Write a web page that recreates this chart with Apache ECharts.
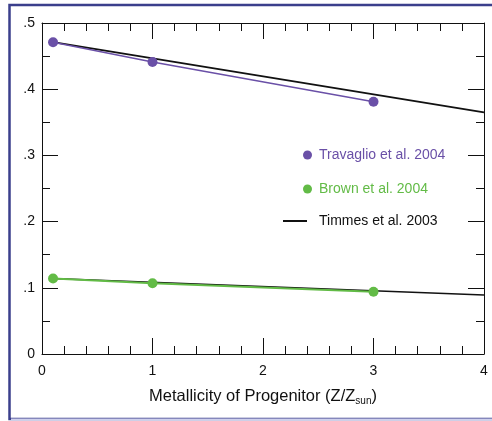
<!DOCTYPE html>
<html>
<head>
<meta charset="utf-8">
<script src="https://cdn.jsdelivr.net/npm/echarts@6/dist/echarts.min.js"></script>
<style>html,body{margin:0;padding:0;background:#fff}#c{width:492px;height:421px}</style>
</head>
<body>
<div id="c"></div>
<script>
var xTicks = [0, 1, 2, 3, 4];
var yTickLabels = ['0', '.1', '.2', '.3', '.4', '.5'];
var travaglioX = [0.1, 1, 3];
var travaglioY = [0.471, 0.441, 0.381];
var brownX = [0.1, 1, 3];
var brownY = [0.114, 0.107, 0.094];
var timmesUpperX = [0.1, 4];
var timmesUpperY = [0.471, 0.365];
var timmesLowerX = [0.1, 4];
var timmesLowerY = [0.114, 0.089];

function zip(a, b) { return a.map(function (v, i) { return [v, b[i]]; }); }

var PURPLE = '#6a50a7';
var GREEN = '#62bb46';
var FONT = 'Liberation Sans';

var chart = echarts.init(document.getElementById('c'), null, {renderer: 'canvas'});

function axLine() { return {show: true, onZero: false, lineStyle: {color: '#111', width: 1}}; }
function axTick() { return {show: true, inside: true, length: 16, lineStyle: {color: '#111', width: 1}}; }
function minor(n) { return {show: true, splitNumber: n, length: 8, lineStyle: {color: '#111', width: 1}}; }

chart.setOption({
  animation: false,
  backgroundColor: '#fff',
  grid: {left: 42, right: 8, top: 23, bottom: 67, containLabel: false},
  xAxis: [
    {
      type: 'value', min: 0, max: 4, interval: 1, position: 'bottom',
      axisLine: axLine(), axisTick: axTick(), minorTick: minor(5), splitLine: {show: false},
      axisLabel: {show: true, color: '#111', fontFamily: FONT, fontSize: 14, margin: 10,
        formatter: function (v) { return xTicks.indexOf(v) >= 0 ? String(v) : ''; }},
      name: 'Metallicity of Progenitor (Z/Z{sub|sun})',
      nameLocation: 'middle', nameGap: 32,
      nameTextStyle: {color: '#111', fontFamily: FONT, fontSize: 16.5, lineHeight: 20,
        rich: {sub: {fontSize: 10, fontFamily: FONT, color: '#111', verticalAlign: 'bottom', lineHeight: 10}}}
    },
    {
      type: 'value', min: 0, max: 4, interval: 1, position: 'top',
      axisLine: axLine(), axisTick: axTick(), minorTick: minor(5), splitLine: {show: false},
      axisLabel: {show: false}
    }
  ],
  yAxis: [
    {
      type: 'value', min: 0, max: 0.5, interval: 0.1, position: 'left',
      axisLine: axLine(), axisTick: axTick(), minorTick: minor(2), splitLine: {show: false},
      axisLabel: {show: true, color: '#111', fontFamily: FONT, fontSize: 14, margin: 7,
        formatter: function (v) { return yTickLabels[Math.round(v * 10)]; }}
    },
    {
      type: 'value', min: 0, max: 0.5, interval: 0.1, position: 'right',
      axisLine: axLine(), axisTick: axTick(), minorTick: minor(2), splitLine: {show: false},
      axisLabel: {show: false}
    }
  ],
  legend: [
    {
      left: 303, top: 148, padding: 0, orient: 'vertical', itemWidth: 9, itemHeight: 9, icon: 'circle',
      data: [{name: 'Travaglio et al. 2004', itemStyle: {color: PURPLE}}],
      textStyle: {color: PURPLE, fontFamily: FONT, fontSize: 14, padding: [0, 0, 0, 2]}
    },
    {
      left: 303, top: 182, padding: 0, orient: 'vertical', itemWidth: 9, itemHeight: 9, icon: 'circle',
      data: [{name: 'Brown et al. 2004', itemStyle: {color: GREEN}}],
      textStyle: {color: GREEN, fontFamily: FONT, fontSize: 14, padding: [0, 0, 0, 2]}
    },
    {
      left: 283, top: 214, padding: 0, orient: 'vertical', itemWidth: 24, itemHeight: 14,
      data: [{name: 'Timmes et al. 2003', icon: 'path://M0,6L24,6L24,8L0,8Z', itemStyle: {color: '#111'}}],
      textStyle: {color: '#111', fontFamily: FONT, fontSize: 14, padding: [0, 0, 0, 7]}
    }
  ],
  graphic: [
    {type: 'rect', silent: true, z: 100, shape: {x: 9.5, y: 5, width: 600, height: 414},
      style: {fill: 'none', stroke: '#3b3f8c', lineWidth: 2.5}},
    {type: 'line', silent: true, z: 101, shape: {x1: 11, y1: 419.5, x2: 492, y2: 419.5},
      style: {stroke: '#cfd0ec', lineWidth: 2}}
  ],
  series: [
    {
      name: 'Timmes et al. 2003', type: 'line', xAxisIndex: 0, yAxisIndex: 0,
      data: zip(timmesUpperX, timmesUpperY), showSymbol: false, symbol: 'none',
      lineStyle: {color: '#111', width: 1.8}, itemStyle: {color: '#111'}, z: 2
    },
    {
      name: 'Timmes et al. 2003', type: 'line', xAxisIndex: 0, yAxisIndex: 0,
      data: zip(timmesLowerX, timmesLowerY), showSymbol: false, symbol: 'none',
      lineStyle: {color: '#111', width: 1.5}, itemStyle: {color: '#111'}, z: 2
    },
    {
      name: 'Travaglio et al. 2004', type: 'line', xAxisIndex: 0, yAxisIndex: 0,
      data: zip(travaglioX, travaglioY), symbol: 'circle', symbolSize: 10, showSymbol: true,
      lineStyle: {color: PURPLE, width: 1.5}, itemStyle: {color: PURPLE}, z: 3
    },
    {
      name: 'Brown et al. 2004', type: 'line', xAxisIndex: 0, yAxisIndex: 0,
      data: zip(brownX, brownY), symbol: 'circle', symbolSize: 10, showSymbol: true,
      lineStyle: {color: GREEN, width: 2}, itemStyle: {color: GREEN}, z: 3
    }
  ]
});
</script>
</body>
</html>
